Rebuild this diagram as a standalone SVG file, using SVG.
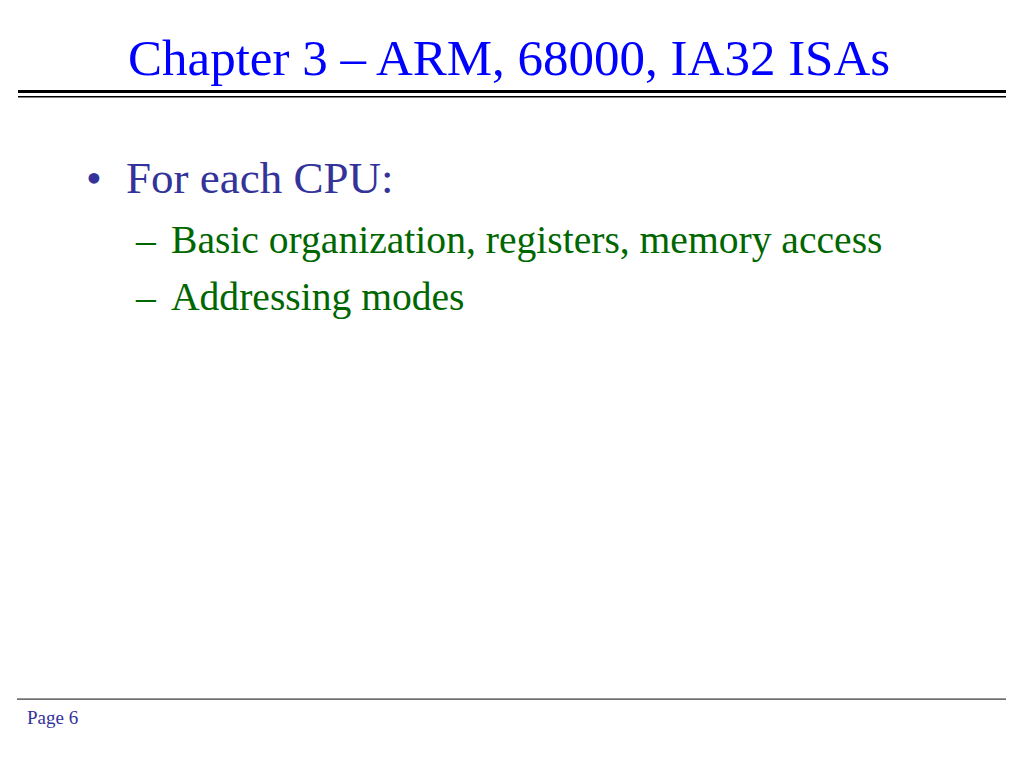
<svg xmlns="http://www.w3.org/2000/svg" width="1024" height="768" viewBox="0 0 1024 768">
<style>
.t{font-family:"Liberation Serif","Times New Roman",serif}
.title{fill:#0000ff;font-size:51px}
.l1{fill:#333399;font-size:45px}
.l2{fill:#006600;font-size:39.6px}
.foot{fill:#333399;font-size:19px}
</style>
<rect width="1024" height="768" fill="#ffffff"/>
<g id="title">
<text class="t title" x="128" y="75">Chapter 3 – ARM, 68000, IA32 ISAs</text>
<rect x="18" y="90" width="988" height="3" fill="#000"/>
<rect x="18" y="96" width="988" height="1.5" fill="#000"/>
</g>
<g id="bullets">
<text class="t l1" x="86" y="193">•</text>
<text class="t l1" x="126" y="193">For each CPU:</text>
<text class="t l2" x="136" y="253">–</text>
<text class="t l2" x="171" y="253">Basic organization, registers, memory access</text>
<text class="t l2" x="136" y="310">–</text>
<text class="t l2" x="171" y="310">Addressing modes</text>
</g>
<g id="footer">
<rect x="17" y="698.5" width="989" height="1.2" fill="#333"/>
<text class="t foot" x="27" y="724">Page 6</text>
</g>
</svg>
